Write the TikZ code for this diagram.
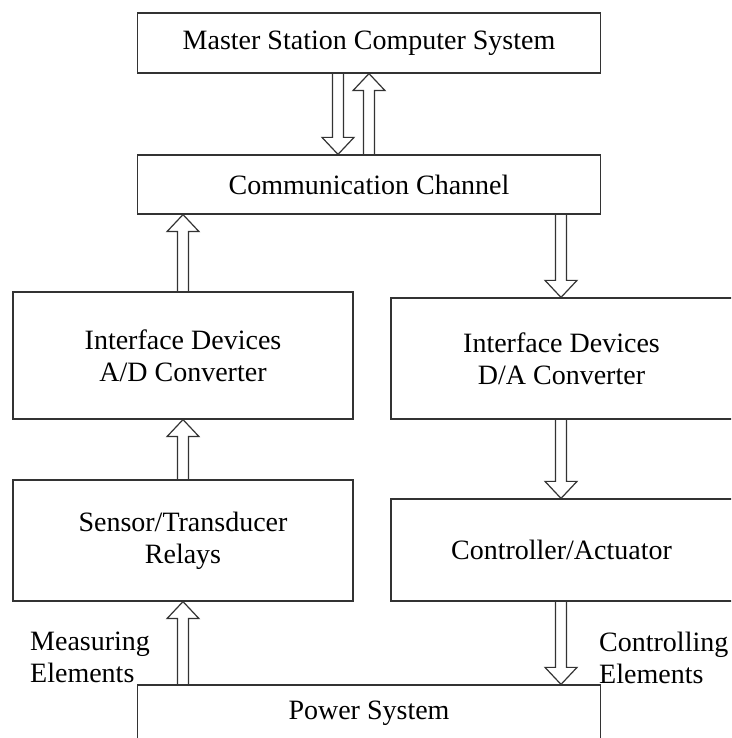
\documentclass[tikz,border=0pt]{standalone}
\usepackage{fontspec}
\setmainfont{Liberation Serif}
\usetikzlibrary{calc, positioning}

% hollow block arrow from #1 to #2 (vertical)
\newcommand{\hollowarrow}[2]{%
  \draw[hollow] let \p1=(#1), \p2=(#2), \n1={(\y2-\y1)/abs(\y2-\y1)} in
    (\x1-5.5pt,\y1) -- (\x1-5.5pt,\y2-\n1*17pt) -- (\x1-16pt,\y2-\n1*17pt)
    -- (\x1,\y2) -- (\x1+16pt,\y2-\n1*17pt) -- (\x1+5.5pt,\y2-\n1*17pt)
    -- (\x1+5.5pt,\y1);%
}

\begin{document}
\begin{tikzpicture}[x=1pt, y=1pt,
    block/.style={draw=black!80, line width=1.2pt, inner sep=0pt, align=center,
      font=\fontsize{28}{32}\selectfont},
    hollow/.style={draw=black!80, line width=1.2pt, line join=miter},
    side text/.style={align=left, inner sep=0pt, font=\fontsize{28}{32}\selectfont}]
    \useasboundingbox (0,0) rectangle (731,738);
    \clip (0,0) rectangle (731,738);

    % Top row
    \node[block, minimum width=463pt, minimum height=60pt] (master) at (369,695) {Master Station Computer System};
    \node[block, minimum width=463pt, minimum height=59pt] (comm) at (369,553.5) {Communication Channel};

    % Interface devices
    \node[block, minimum width=340pt, minimum height=127pt] (ad) at (183,382.5) {Interface Devices\\A/D Converter};
    \node[block, minimum width=350pt, minimum height=121pt] (da) at (566,379.5) {\hspace*{-9pt}Interface Devices\\\hspace*{-9pt}D/A Converter};

    % Field devices
    \node[block, minimum width=340pt, minimum height=121pt] (sens) at (183,197.5) {Sensor/Transducer\\Relays};
    \node[block, minimum width=350pt, minimum height=102pt] (ctrl) at (566,188) {\hspace*{-9pt}Controller/Actuator};

    % Power system
    \node[block, minimum width=463pt, minimum height=56pt] (power) at (369,25) {Power System};

    % Side labels
    \node[side text, anchor=west] (meas) at (30,80.5) {Measuring\\Elements};
    \node[side text, anchor=west] (contr) at (599,80.5) {Controlling\\Elements};

    % Arrows
    \hollowarrow{[xshift=-31pt]master.south}{[xshift=-31pt]comm.north}
    \hollowarrow{comm.north}{master.south}
    \hollowarrow{ad.north}{ad.north |- comm.south}
    \hollowarrow{[xshift=-5pt]da.north |- comm.south}{[xshift=-5pt]da.north}
    \hollowarrow{sens.north}{ad.south}
    \hollowarrow{[xshift=-5pt]da.south}{[xshift=-5pt]ctrl.north}
    \hollowarrow{sens.south |- power.north}{sens.south}
    \hollowarrow{[xshift=-5pt]ctrl.south}{[xshift=-5pt]ctrl.south |- power.north}

\end{tikzpicture}
\end{document}
